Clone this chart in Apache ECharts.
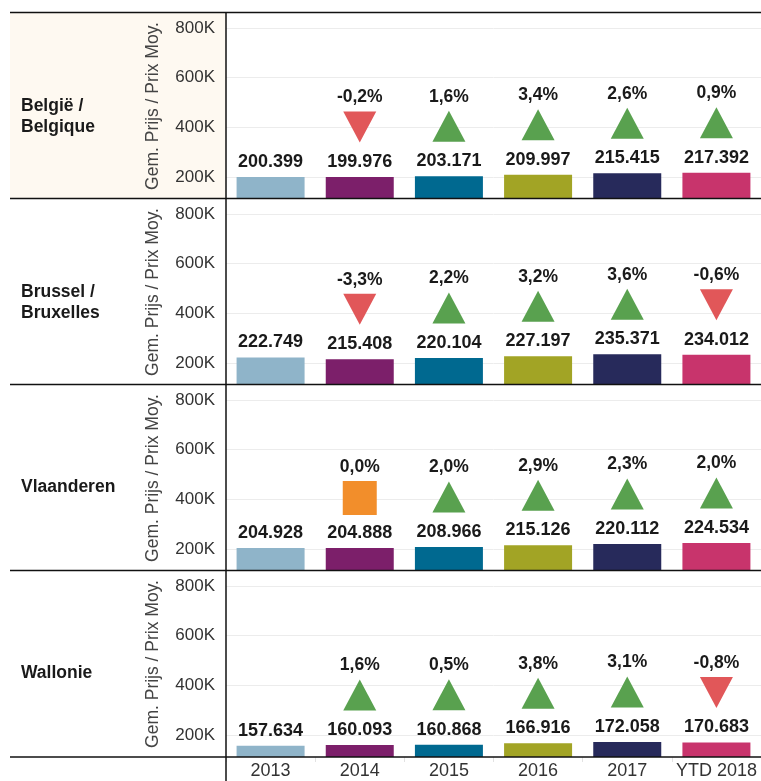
<!DOCTYPE html>
<html>
<head>
<meta charset="utf-8">
<script src="https://cdn.jsdelivr.net/npm/echarts@6/dist/echarts.min.js"></script>
<style>
  html, body { margin: 0; padding: 0; background: #fff; }
  #main { width: 761px; height: 781px; }
</style>
</head>
<body>
<div id="main"></div>
<script>
// categorieën (jaren)
const years = ["2013", "2014", "2015", "2016", "2017", "YTD 2018"];
const regions = ["België /\nBelgique", "Brussel /\nBruxelles", "Vlaanderen", "Wallonie"];

// gemiddelde prijs per regio
const belgie = [200399, 199976, 203171, 209997, 215415, 217392];
const brussel = [222749, 215408, 220104, 227197, 235371, 234012];
const vlaanderen = [204928, 204888, 208966, 215126, 220112, 224534];
const wallonie = [157634, 160093, 160868, 166916, 172058, 170683];

// evolutie t.o.v. vorig jaar
const belgiePct = ["", "-0,2%", "1,6%", "3,4%", "2,6%", "0,9%"];
const brusselPct = ["", "-3,3%", "2,2%", "3,2%", "3,6%", "-0,6%"];
const vlaanderenPct = ["", "0,0%", "2,0%", "2,9%", "2,3%", "2,0%"];
const walloniePct = ["", "1,6%", "0,5%", "3,8%", "3,1%", "-0,8%"];

const yTicks = [200000, 400000, 600000, 800000];
const yTickLabels = ["200K", "400K", "600K", "800K"];

const values = [belgie, brussel, vlaanderen, wallonie];
const pcts = [belgiePct, brusselPct, vlaanderenPct, walloniePct];

const barColors = ["#8fb4c9", "#7c1f6a", "#006990", "#a2a425", "#272a5b", "#c8346c"];
const upColor = "#59a14f";
const downColor = "#e15759";
const flatColor = "#f28e2b";
const font = "Liberation Sans";

const myChart = echarts.init(document.getElementById("main"));

const panelTop = [13, 199, 385, 571];
const panelH = 186;
const left = 226;

const fmt = (v) => String(v).replace(/\B(?=(\d{3})+(?!\d))/g, ".");

const grid = [];
const xAxis = [];
const yAxis = [];
const series = [];
const graphic = [];

// achtergrond eerste rij
graphic.push({
  type: "rect",
  left: 10, top: 12.5,
  shape: { width: 216, height: 186 },
  style: { fill: "#fef9f1" },
  z: -10,
});

values.forEach((vals, i) => {
  grid.push({ left: left, width: 540, top: panelTop[i], height: panelH });
  xAxis.push({
    type: "category",
    gridIndex: i,
    data: years,
    axisLine: { show: false },
    axisTick: {
      show: i === 3,
      length: 5,
      lineStyle: { color: "#e2e2e2" },
    },
    axisLabel: {
      show: i === 3,
      interval: 0,
      fontFamily: font,
      fontSize: 18,
      color: "#333",
      margin: 5,
    },
  });
  yAxis.push({
    type: "value",
    gridIndex: i,
    min: 112000,
    max: 860000,
    name: "Gem. Prijs / Prix Moy.",
    nameLocation: "middle",
    nameRotate: 90,
    nameGap: 64,
    nameTextStyle: { fontFamily: font, fontSize: 17.5, color: "#444" },
    axisLine: { show: false },
    axisTick: { show: false, customValues: yTicks },
    axisLabel: {
      customValues: yTicks,
      formatter: (v) => yTickLabels[yTicks.indexOf(v)],
      fontFamily: font,
      fontSize: 17,
      color: "#333",
      margin: 11,
    },
    splitLine: { show: true, lineStyle: { color: "#ececec", width: 1 } },
  });

  series.push({
    type: "bar",
    xAxisIndex: i,
    yAxisIndex: i,
    barWidth: 68,
    data: vals.map((v, j) => ({ value: v, itemStyle: { color: barColors[j] } })),
    label: {
      show: true,
      position: "top",
      distance: 6,
      formatter: (p) => fmt(p.value),
      fontFamily: font,
      fontSize: 18,
      fontWeight: "bold",
      color: "#1a1a1a",
    },
    silent: true,
  });

  const p = pcts[i];
  series.push({
    type: "scatter",
    xAxisIndex: i,
    yAxisIndex: i,
    data: vals.map((v, j) => {
      if (!p[j]) return { value: "-" };
      let symbol = "triangle", color = upColor, rot = 0, size = [33, 31];
      if (p[j].startsWith("-")) { color = downColor; rot = 180; }
      else if (p[j] === "0,0%") { symbol = "rect"; color = flatColor; size = [34, 34]; }
      return {
        value: v,
        symbol: symbol,
        symbolRotate: rot,
        symbolSize: size,
        itemStyle: { color: color, opacity: 1 },
        label: { formatter: p[j] },
      };
    }),
    symbolOffset: [0, -50],
    itemStyle: { opacity: 1 },
    label: {
      show: true,
      position: "top",
      distance: 5,
      fontFamily: font,
      fontSize: 17.5,
      fontWeight: "bold",
      color: "#1a1a1a",
    },
    silent: true,
    z: 5,
  });

  // regio naam
  graphic.push({
    type: "text",
    left: 21,
    top: panelTop[i] + (regions[i].includes("\n") ? 83 : 92),
    style: {
      text: regions[i],
      font: "bold 17.5px " + font,
      fill: "#1a1a1a",
      lineHeight: 21,
    },
    z: 50,
  });

  // horizontale scheidingslijn
  graphic.push({
    type: "line",
    shape: { x1: 10, y1: panelTop[i] - 0.5, x2: 761, y2: panelTop[i] - 0.5 },
    style: { stroke: "#111", lineWidth: 1.5 },
    z: 100,
  });
});

// onderste lijn
graphic.push({
  type: "line",
  shape: { x1: 10, y1: 757, x2: 761, y2: 757 },
  style: { stroke: "#111", lineWidth: 1.5 },
  z: 100,
});
// verticale lijn
graphic.push({
  type: "line",
  shape: { x1: 226, y1: 12.5, x2: 226, y2: 781 },
  style: { stroke: "#111", lineWidth: 1.5 },
  z: 100,
});

myChart.setOption({
  animation: false,
  textStyle: { fontFamily: font },
  grid: grid,
  xAxis: xAxis,
  yAxis: yAxis,
  series: series,
  graphic: graphic,
});
</script>
</body>
</html>
